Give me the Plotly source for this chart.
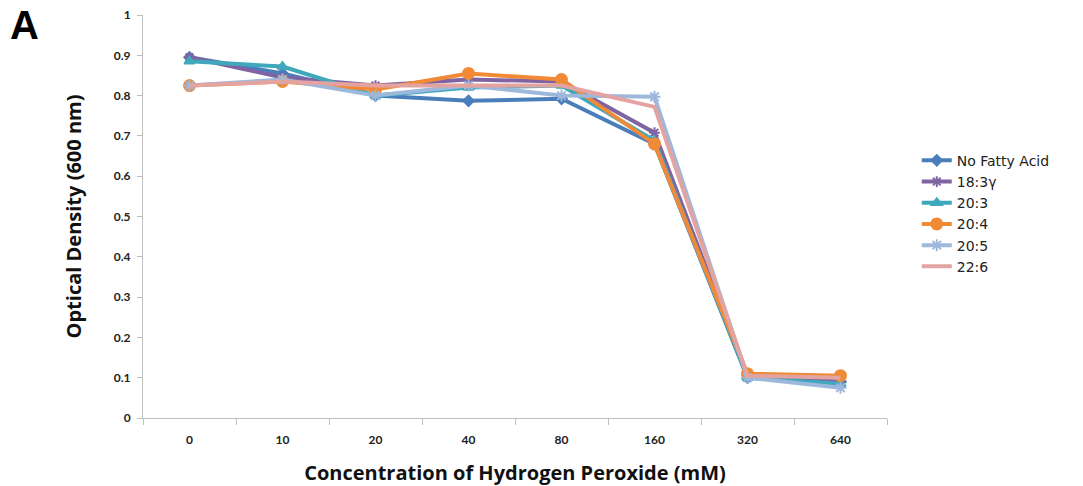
import plotly.graph_objects as go

categories = ["0", "10", "20", "40", "80", "160", "320", "640"]
no_fatty_acid = [0.895, 0.855, 0.800, 0.787, 0.792, 0.680, 0.100, 0.090]
la_18_3g = [0.895, 0.845, 0.825, 0.840, 0.835, 0.708, 0.105, 0.090]
ea_20_3 = [0.885, 0.872, 0.800, 0.820, 0.825, 0.688, 0.100, 0.085]
aa_20_4 = [0.825, 0.835, 0.815, 0.855, 0.840, 0.680, 0.110, 0.105]
epa_20_5 = [0.825, 0.840, 0.800, 0.825, 0.800, 0.797, 0.100, 0.075]
dha_22_6 = [0.825, 0.835, 0.825, 0.825, 0.825, 0.772, 0.105, 0.100]
y_ticks = [0, 0.1, 0.2, 0.3, 0.4, 0.5, 0.6, 0.7, 0.8, 0.9, 1]

series = [
    ("No Fatty Acid", no_fatty_acid, "#4A7EBB", "diamond", 8),
    ("18:3γ", la_18_3g, "#7F63A2", "asterisk-open", 9),
    ("20:3", ea_20_3, "#3FA8BC", "triangle-up", 9),
    ("20:4", aa_20_4, "#F08A36", "circle", 11),
    ("20:5", epa_20_5, "#9DB8DB", "asterisk-open", 10),
    ("22:6", dha_22_6, "#E3A4A1", None, 0),
]

fig = go.Figure()
for name, vals, color, sym, size in series:
    if sym is None:
        fig.add_trace(go.Scatter(x=categories, y=vals, name=name, mode="lines",
                                 line=dict(color=color, width=4)))
    else:
        fig.add_trace(go.Scatter(x=categories, y=vals, name=name, mode="lines+markers",
                                 line=dict(color=color, width=4),
                                 marker=dict(symbol=sym, size=size, color=color,
                                             line=dict(color=color, width=2))))

fig.update_layout(
    width=1075, height=478,
    margin=dict(l=135, r=196, t=7, b=68),
    plot_bgcolor="white", paper_bgcolor="white",
    font=dict(family="Lato, Open Sans, sans-serif", color="#222"),
    showlegend=True,
    legend=dict(x=1.040, y=0.678, xanchor="left", yanchor="top",
                font=dict(size=14, family="DejaVu Sans, sans-serif", color="#222"),
                tracegroupgap=0, itemwidth=30, bgcolor="rgba(0,0,0,0)"),
    xaxis=dict(type="category", range=[-0.5, 7.5], tickson="boundaries",
               ticks="outside", ticklen=6, tickcolor="#BFBFBF", automargin=False,
               showline=True, linecolor="#BFBFBF", linewidth=1, showgrid=False,
               ticklabelstandoff=11, ticklabeloverflow="allow",
               tickfont=dict(size=12, family="Lato", color="#222", weight="bold"),
               title=dict(text="Concentration of Hydrogen Peroxide (mM)", standoff=20,
                          font=dict(size=20, family="Open Sans", color="#111", weight="bold"))),
    yaxis=dict(range=[0, 1], tickvals=y_ticks, ticktext=[f"{v:g}" for v in y_ticks],
               ticks="outside", ticklen=5, tickcolor="#BFBFBF", automargin=False,
               showline=True, linecolor="#BFBFBF", linewidth=1, showgrid=False, zeroline=False,
               ticklabelstandoff=4, ticklabeloverflow="allow",
               tickfont=dict(size=12, family="Lato", color="#222", weight="bold"),
               title=dict(text="Optical Density (600 nm)", standoff=26,
                          font=dict(size=20, family="Open Sans", color="#111", weight="bold"))),
)

fig.add_annotation(text="<b>A</b>", xref="paper", yref="paper", x=-0.1815, y=0.975,
                   xanchor="left", yanchor="middle", showarrow=False,
                   font=dict(size=40, family="Liberation Sans, Arial", color="black"))

fig.write_html("out.html")
